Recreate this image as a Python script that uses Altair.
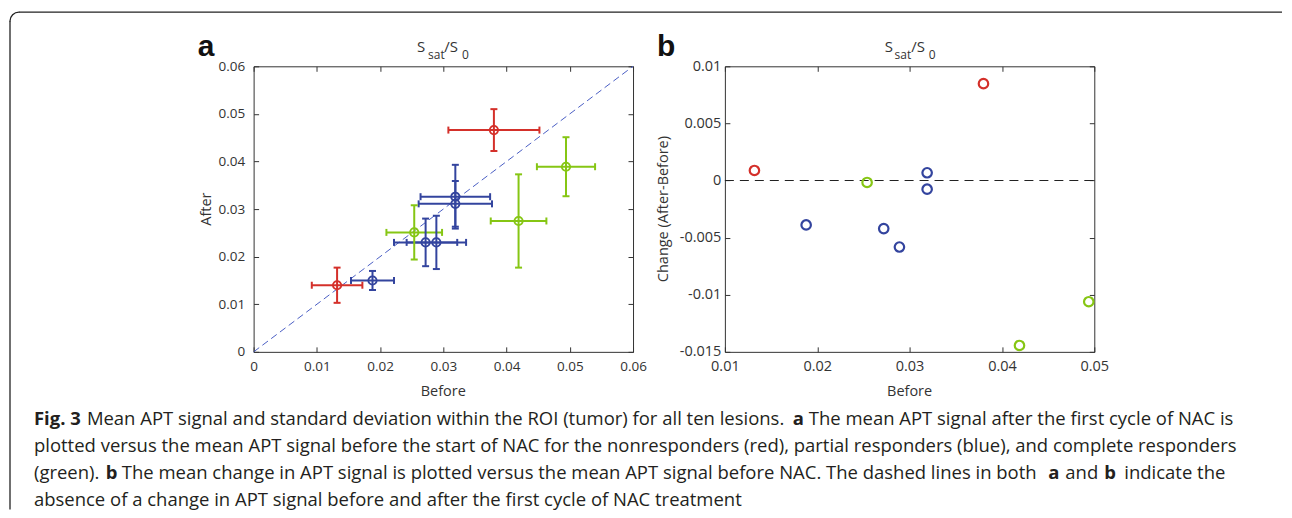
import altair as alt
import pandas as pd

# ---------------- data ----------------
group_names = ["Nonresponder", "Partial responder", "Complete responder"]
group_colors = ["#d4302a", "#33449e", "#86c614"]

groups = ["Nonresponder", "Partial responder", "Complete responder", "Partial responder",
          "Partial responder", "Partial responder", "Partial responder",
          "Complete responder", "Nonresponder", "Complete responder"]
before_mean = [0.0132, 0.0188, 0.0254, 0.0272, 0.0289, 0.0319, 0.0319, 0.0419, 0.0380, 0.0494]
before_sd = [0.0040, 0.0034, 0.0044, 0.0050, 0.0047, 0.0055, 0.0058, 0.0044, 0.0072, 0.0046]
after_mean = [0.0140, 0.0150, 0.0251, 0.0230, 0.0230, 0.0326, 0.0311, 0.0275, 0.0466, 0.0389]
after_sd = [0.0037, 0.0020, 0.0057, 0.0050, 0.0056, 0.0067, 0.0048, 0.0098, 0.0044, 0.0062]
change = [0.00088, -0.00389, -0.00017, -0.00421, -0.00582, 0.00068, -0.00076, -0.01444, 0.00848, -0.01061]

identity_line = [0, 0.06]
zero_line_x = [0.01, 0.05]
zero_line_y = [0, 0]

a_ticks = [0, 0.01, 0.02, 0.03, 0.04, 0.05, 0.06]
b_xticks = [0.01, 0.02, 0.03, 0.04, 0.05]
b_yticks = [-0.015, -0.01, -0.005, 0, 0.005, 0.01]

title_parts = [("S", False), ("sat", True), ("/S", False), ("0", True)]

caption_lines = [
    [("Fig. 3", True), ("Mean APT signal and standard deviation within the ROI (tumor) for all ten lesions.", False),
     ("a", True), ("The mean APT signal after the first cycle of NAC is", False)],
    [("plotted versus the mean APT signal before the start of NAC for the nonresponders (red), partial responders (blue), and complete responders", False)],
    [("(green).", False), ("b", True),
     ("The mean change in APT signal is plotted versus the mean APT signal before NAC. The dashed lines in both", False),
     ("a", True), ("and", False), ("b", True), ("indicate the", False)],
    [("absence of a change in APT signal before and after the first cycle of NAC treatment", False)],
]

# ---------------- layout / style ----------------
AX, AY = 253, 66          # page position of panel a plot area
BX, BY = 725, 66          # page position of panel b plot area
A_W, A_H, B_W, B_H = 380, 286, 370, 286
GAP = BX - (AX + A_W)
BOX = "#333333"
TXT = "#333333"
FONT = "Open Sans"
A_LABEL_SIZE = 13.5
B_LABEL_SIZE = 14.5
TITLE_SIZE = 14.5
CAP_FONT = "Open Sans"
CAP_SIZE = 18.5
CAP_COLOR = "#231f20"
cap_x = [[33, 86, 793, 809], [33], [33, 105, 121, 1049, 1066, 1105, 1125], [33]]
cap_base = [425, 452, 479, 506]
title_x_a = [416.7, 427.7, 444.0, 461.7]
title_x_b = [885.0, 895.0, 911.7, 929.3]

one = pd.DataFrame({"k": [0]})


def ann(text, x, y, size, weight="normal", align="left", baseline="alphabetic",
        angle=0, font=FONT, color=TXT):
    return alt.Chart(one).mark_text(
        text=text, fontSize=size, fontWeight=weight, align=align, baseline=baseline,
        angle=angle, font=font, color=color
    ).encode(x=alt.value(x), y=alt.value(y))


def axis(orient, values, labels=True, pad=8, size=13.5):
    kw = dict(orient=orient, values=values, labels=labels, domain=False, grid=False,
              ticks=True, tickSize=5, offset=-5, tickColor=BOX, tickWidth=1,
              title=None, labelOverlap=False, labelFlush=False)
    if labels:
        kw.update(labelFont=FONT, labelFontSize=size, labelColor=TXT, labelPadding=pad,
                  labelExpr="'' + datum.value")
    return alt.Axis(**kw)


color = alt.Color("group:N", scale=alt.Scale(domain=group_names, range=group_colors), legend=None)

# ---------------- panel a ----------------
dfA = pd.DataFrame({"group": groups, "before": before_mean, "bsd": before_sd,
                    "after": after_mean, "asd": after_sd})
dfA["b_lo"] = dfA["before"] - dfA["bsd"]
dfA["b_hi"] = dfA["before"] + dfA["bsd"]
dfA["a_lo"] = dfA["after"] - dfA["asd"]
dfA["a_hi"] = dfA["after"] + dfA["asd"]

capx = pd.DataFrame({"group": groups * 2, "x": list(dfA["b_lo"]) + list(dfA["b_hi"]),
                     "y": after_mean * 2})
capy = pd.DataFrame({"group": groups * 2, "x": before_mean * 2,
                     "y": list(dfA["a_lo"]) + list(dfA["a_hi"])})

sAx = alt.Scale(domain=[0, 0.06], nice=False, zero=False)
sAy = alt.Scale(domain=[0, 0.06], nice=False, zero=False)

diag = alt.Chart(pd.DataFrame({"x": identity_line, "y": identity_line})).mark_line(
    color="#4a5ec4", strokeDash=[7, 4], strokeWidth=1
).encode(
    x=alt.X("x:Q", scale=sAx, axis=axis("bottom", a_ticks, pad=8, size=A_LABEL_SIZE)),
    y=alt.Y("y:Q", scale=sAy, axis=axis("left", a_ticks, pad=9, size=A_LABEL_SIZE)),
)
hbar = alt.Chart(dfA).mark_rule(strokeWidth=2).encode(
    x=alt.X("b_lo:Q", scale=sAx, axis=axis("top", a_ticks, labels=False)),
    x2="b_hi:Q",
    y=alt.Y("after:Q", scale=sAy, axis=axis("right", a_ticks, labels=False)),
    color=color,
)
vbar = alt.Chart(dfA).mark_rule(strokeWidth=2).encode(
    x=alt.X("before:Q", scale=sAx, axis=None),
    y=alt.Y("a_lo:Q", scale=sAy, axis=None), y2="a_hi:Q", color=color,
)
capsx = alt.Chart(capx).mark_tick(orient="vertical", size=7, thickness=2, opacity=1).encode(
    x=alt.X("x:Q", scale=sAx, axis=None), y=alt.Y("y:Q", scale=sAy, axis=None), color=color)
capsy = alt.Chart(capy).mark_tick(orient="horizontal", size=7, thickness=2, opacity=1).encode(
    x=alt.X("x:Q", scale=sAx, axis=None), y=alt.Y("y:Q", scale=sAy, axis=None), color=color)
ptsA = alt.Chart(dfA).mark_point(shape="circle", filled=False, size=70, strokeWidth=1.8,
                                 opacity=1).encode(
    x=alt.X("before:Q", scale=sAx, axis=None), y=alt.Y("after:Q", scale=sAy, axis=None), color=color)

annA = [
    ann("a", 197 - AX, 56 - AY, 30, weight="bold", font="Liberation Sans", color="#111"),
    ann("After", 206.7 - AX, 209 - AY, TITLE_SIZE, align="center", baseline="middle", angle=270),
    ann("Before", 443 - AX, 396.5 - AY, TITLE_SIZE, align="center"),
]
for (t, sub), px in zip(title_parts, title_x_a):
    annA.append(ann(t, px - AX, (59 if sub else 51.7) - AY, 12 if sub else 15))

# frame around the whole figure
FR_L, FR_T, FR_R, FR_B, RAD = 9, 11.7, 1283, 510, 9
FRAME = dict(stroke="#222", strokeWidth=1.3, strokeJoin="round", strokeCap="butt")
frame = [
    alt.Chart(one).mark_rule(**FRAME).encode(
        x=alt.value(FR_L + RAD - AX), x2=alt.value(FR_R - AX), y=alt.value(FR_T - AY)),
    alt.Chart(one).mark_rule(**FRAME).encode(
        x=alt.value(FR_L - AX), y=alt.value(FR_T + RAD - AY), y2=alt.value(FR_B - AY)),
    alt.Chart(one).mark_arc(radius=RAD, radius2=RAD - 0.01, theta=4.712389, theta2=6.283185,
                            fillOpacity=0, **FRAME).encode(
        x=alt.value(FR_L + RAD - AX), y=alt.value(FR_T + RAD - AY)),
]

caption = []
for li, line in enumerate(caption_lines):
    for (seg, bold), sx in zip(line, cap_x[li]):
        caption.append(ann(seg, sx - AX, cap_base[li] - AY, CAP_SIZE,
                           weight="bold" if bold else "normal",
                           font=CAP_FONT, color=CAP_COLOR))

panelA = alt.layer(diag, hbar, vbar, capsx, capsy, ptsA, *annA, *frame, *caption).properties(
    width=A_W, height=A_H).resolve_axis(x="independent", y="independent")

# ---------------- panel b ----------------
dfB = pd.DataFrame({"group": groups, "before": before_mean, "change": change})
sBx = alt.Scale(domain=[0.01, 0.05], nice=False, zero=False)
sBy = alt.Scale(domain=[-0.015, 0.01], nice=False, zero=False)

zero = alt.Chart(pd.DataFrame({"x": zero_line_x, "y": zero_line_y})).mark_line(
    color="#222", strokeDash=[9, 6], strokeWidth=1.2
).encode(
    x=alt.X("x:Q", scale=sBx, axis=axis("top", b_xticks, labels=False)),
    y=alt.Y("y:Q", scale=sBy, axis=axis("right", b_yticks, labels=False)),
)
ptsB = alt.Chart(dfB).mark_point(shape="circle", filled=False, size=90, strokeWidth=2.2,
                                 opacity=1).encode(
    x=alt.X("before:Q", scale=sBx, axis=axis("bottom", b_xticks, pad=8, size=B_LABEL_SIZE)),
    y=alt.Y("change:Q", scale=sBy, axis=axis("left", b_yticks, pad=4, size=B_LABEL_SIZE)),
    color=color,
)
annB = [
    ann("b", 657 - BX, 56 - BY, 30, weight="bold", font="Liberation Sans", color="#111"),
    ann("Change (After-Before)", 664.5 - BX, 209 - BY, TITLE_SIZE, align="center",
        baseline="middle", angle=270),
    ann("Before", 910 - BX, 396.5 - BY, TITLE_SIZE, align="center"),
]
for (t, sub), px in zip(title_parts, title_x_b):
    annB.append(ann(t, px - BX, (59 if sub else 51.7) - BY, 12 if sub else 15))

panelB = alt.layer(zero, ptsB, *annB).properties(width=B_W, height=B_H).resolve_axis(
    x="independent", y="independent")

chart = alt.hconcat(panelA, panelB, spacing=GAP, bounds="flush").properties(
    padding={"left": 0, "top": 2, "right": 0, "bottom": 0}
).configure_view(stroke=BOX, strokeWidth=1)

chart.save("out.html", embed_options={"renderer": "svg", "actions": False})
